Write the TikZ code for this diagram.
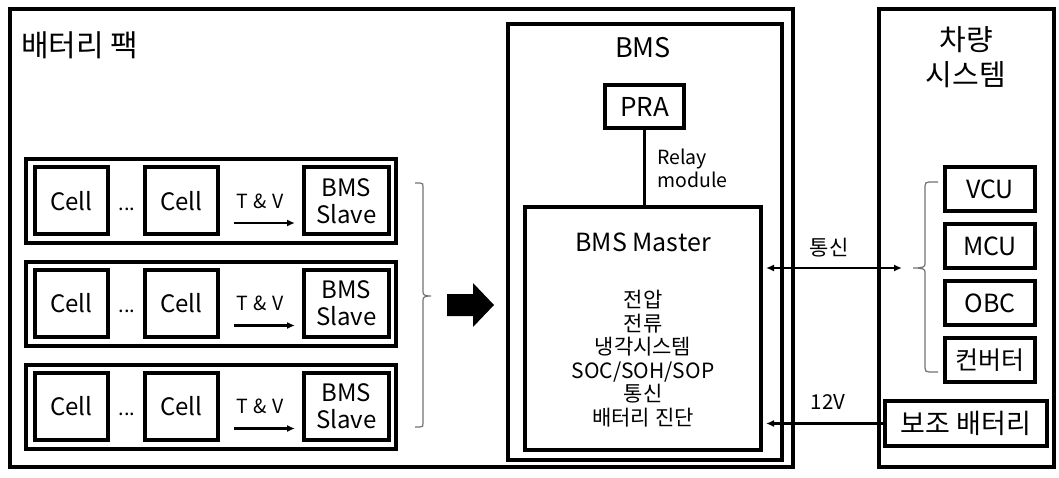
\documentclass[tikz,border=0pt]{standalone}
\usepackage{fontspec}
\setmainfont{Noto Sans CJK KR}
\usetikzlibrary{arrows.meta}
\newcommand{\fs}[2]{\fontsize{#1}{#2}\selectfont}
\tikzset{
  bx/.style={draw, line width=4pt, inner sep=0pt, align=center},
  txt/.style={inner sep=0pt, align=center},
  fA/.style={font=\fs{24}{28}},
  fB/.style={font=\fs{25}{29}},
  fC/.style={font=\fs{21}{23.5}},
  fS/.style={font=\fs{19.5}{23}},
  conn/.style={line width=2.5pt, -{Latex[length=8pt,width=7pt]}},
  dconn/.style={line width=2.5pt, {Latex[length=8pt,width=7pt]}-{Latex[length=8pt,width=7pt]}},
  brc/.style={draw=black!55, line width=1.2pt},
}
\begin{document}
\begin{tikzpicture}[x=1pt,y=-1pt]
\useasboundingbox (0,0) rectangle (1059,478);
\fill[white] (0,0) rectangle (1059,478);

% battery pack
\node[bx, minimum width=783pt, minimum height=458pt] (pack) at (401.5,238) {};
\node[txt, font=\fs{30}{34}, anchor=west] (packlbl) at (21,45) {배터리 팩};

% modules
\foreach \i/\y in {1/201, 2/303.5, 3/406.5} {
  \node[bx, minimum width=370pt, minimum height=84pt] (m\i) at (211,\y) {};
  \node[bx, fA, minimum width=73pt, minimum height=67pt] (ca\i) at (71.5,\y) {Cell};
  \node[bx, fA, minimum width=73pt, minimum height=67pt] (cb\i) at (181.5,\y) {Cell};
  \node[txt, font=\fs{20}{24}] (dt\i) at (127,\y+8) {...};
  \node[bx, minimum width=85pt, minimum height=67pt, font=\fs{24}{27}] (sl\i) at (346.5,\y) {BMS\\Slave};
  \node[txt, fS] (tv\i) at (260,\y) {T\hspace{0.3em}\&\hspace{0.3em}V};
  \draw[conn, shorten <=14pt, shorten >=7pt] ([yshift=-22pt]cb\i.east) -- ([yshift=-22pt]sl\i.west);
}

% brace after modules
\draw[brc] (415,183) -- (420,183) .. controls (423,183) and (423,184) .. (423,187)
  -- (423,292) .. controls (423,295) and (425,296) .. (431,296)
  .. controls (425,296) and (423,297) .. (423,300)
  -- (423,423) .. controls (423,426) and (423,427) .. (420,427) -- (415,427);

% big arrow
\fill (447,294) -- (473,294) -- (473,283) -- (494,305) -- (473,327) -- (473,316) -- (447,316) -- cycle;

% BMS
\node[bx, minimum width=274pt, minimum height=435pt] (bms) at (645,242) {};
\node[txt, font=\fs{27}{30}] (bmslbl) at (643,48) {BMS};
\node[bx, font=\fs{26}{30}, minimum width=79pt, minimum height=43pt] (pra) at (644.5,106.5) {PRA};
\node[bx, minimum width=236pt, minimum height=243pt] (master) at (643,328.5) {};
\node[txt, fB] (masterlbl) at (643,242) {BMS Master};
\node[txt, fC] (list) at (643,358.5) {전압\\전류\\냉각시스템\\SOC/SOH/SOP\\통신\\배터리 진단};
\draw[line width=2.5pt] (pra.south) -- (pra.south |- master.north);
\node[txt, fS, align=left, anchor=west] (relay) at (657,168) {Relay\\module};

% vehicle system
\node[bx, minimum width=175pt, minimum height=458pt] (veh) at (966.5,238) {};
\node[txt, font=\fs{29}{35}] (vehlbl) at (966,57) {차량\\시스템};
\node[bx, fB, minimum width=90pt, minimum height=44pt] (vcu) at (990,189) {VCU};
\node[bx, fB, minimum width=90pt, minimum height=44pt] (mcu) at (990,246) {MCU};
\node[bx, fB, minimum width=90pt, minimum height=44pt] (obc) at (990,303) {OBC};
\node[bx, fB, minimum width=90pt, minimum height=44pt] (conv) at (990,360) {컨버터};
\node[bx, font=\fs{27}{30}, minimum width=162pt, minimum height=45pt] (aux) at (966,423.5) {보조 배터리};

% brace before vehicle units
\draw[brc] (938,182) -- (929,182) .. controls (926,182) and (925,183) .. (925,186)
  -- (925,264) .. controls (925,267) and (923,268) .. (913,268)
  .. controls (923,268) and (925,269) .. (925,272)
  -- (925,368) .. controls (925,371) and (926,372) .. (929,372) -- (938,372);
\coordinate (bt) at (913,268);

% connectors
\draw[dconn, shorten <=3pt, shorten >=11pt] (master.east |- bt) -- (bt);
\node[txt, font=\fs{21}{24}] (comm) at (829,248) {통신};
\draw[conn, shorten >=3pt] (aux.west) -- (aux.west -| master.east);
\node[txt, font=\fs{20.5}{24}] (v12) at (828,402) {12V};
\end{tikzpicture}
\end{document}
